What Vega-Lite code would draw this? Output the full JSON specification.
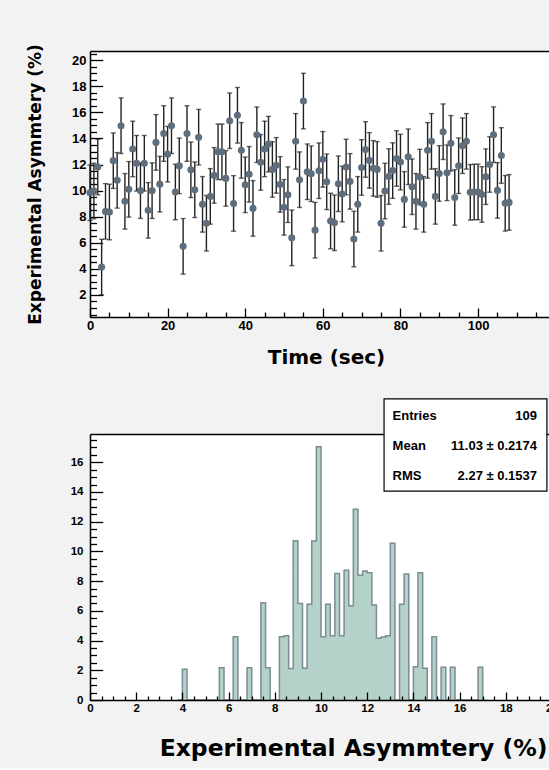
{
  "$schema": "https://vega.github.io/schema/vega-lite/v6.json",
  "background": "#f2f2f2",
  "padding": {"left": 26, "top": 43, "right": 0, "bottom": 8},
  "config": {
    "view": {"stroke": null, "fill": "white"},
    "axis": {
      "labelFont": "Liberation Sans", "labelFontWeight": "bold", "labelColor": "black",
      "tickColor": "black", "tickWidth": 1.3, "domainColor": "black", "domainWidth": 1.5,
      "grid": false, "labelFlush": false, "labelOverlap": false, "labelBound": false,
      "titleFont": "DejaVu Sans", "titleFontWeight": "bold", "titleColor": "black"
    }
  },
  "datasets": {
    "series": [
      {"t":0,"v":9.84,"err":2.13},{"t":1,"v":9.97,"err":2.13},{"t":2,"v":11.81,"err":2.13},{"t":3,"v":4.14,"err":2.13},
      {"t":4,"v":8.41,"err":2.13},{"t":5,"v":8.36,"err":2.13},{"t":6,"v":12.3,"err":2.13},{"t":7,"v":10.79,"err":2.13},
      {"t":8,"v":14.98,"err":2.13},{"t":9,"v":9.18,"err":2.13},{"t":10,"v":10.1,"err":2.13},{"t":11,"v":13.2,"err":2.13},
      {"t":12,"v":12.1,"err":2.13},{"t":13,"v":10.0,"err":2.13},{"t":14,"v":12.1,"err":2.13},{"t":15,"v":8.49,"err":2.13},
      {"t":16,"v":10.0,"err":2.13},{"t":17,"v":13.7,"err":2.13},{"t":18,"v":10.5,"err":2.13},{"t":19,"v":14.38,"err":2.13},
      {"t":20,"v":12.8,"err":2.13},{"t":21,"v":14.98,"err":2.13},{"t":22,"v":9.9,"err":2.13},{"t":23,"v":11.9,"err":2.13},
      {"t":24,"v":5.73,"err":2.13},{"t":25,"v":14.38,"err":2.13},{"t":26,"v":11.6,"err":2.13},{"t":27,"v":10.07,"err":2.13},
      {"t":28,"v":14.1,"err":2.13},{"t":29,"v":8.95,"err":2.13},{"t":30,"v":7.5,"err":2.13},{"t":31,"v":9.56,"err":2.13},
      {"t":32,"v":11.17,"err":2.13},{"t":33,"v":12.98,"err":2.13},{"t":34,"v":12.98,"err":2.13},{"t":35,"v":10.94,"err":2.13},
      {"t":36,"v":15.36,"err":2.13},{"t":37,"v":9.02,"err":2.13},{"t":38,"v":15.78,"err":2.13},{"t":39,"v":13.09,"err":2.13},
      {"t":40,"v":10.45,"err":2.13},{"t":41,"v":11.25,"err":2.13},{"t":42,"v":8.64,"err":2.13},{"t":43,"v":14.29,"err":2.13},
      {"t":44,"v":12.17,"err":2.13},{"t":45,"v":13.2,"err":2.13},{"t":46,"v":13.57,"err":2.13},{"t":47,"v":11.63,"err":2.13},
      {"t":48,"v":11.94,"err":2.13},{"t":49,"v":10.48,"err":2.13},{"t":50,"v":8.72,"err":2.13},{"t":51,"v":9.69,"err":2.13},
      {"t":52,"v":6.38,"err":2.13},{"t":53,"v":13.78,"err":2.13},{"t":54,"v":10.84,"err":2.13},{"t":55,"v":16.87,"err":2.13},
      {"t":56,"v":11.45,"err":2.13},{"t":57,"v":11.3,"err":2.13},{"t":58,"v":6.97,"err":2.13},{"t":59,"v":11.53,"err":2.13},
      {"t":60,"v":12.4,"err":2.13},{"t":61,"v":10.68,"err":2.13},{"t":62,"v":7.67,"err":2.13},{"t":63,"v":7.54,"err":2.13},
      {"t":64,"v":10.53,"err":2.13},{"t":65,"v":9.74,"err":2.13},{"t":66,"v":11.81,"err":2.13},{"t":67,"v":10.71,"err":2.13},
      {"t":68,"v":6.29,"err":2.13},{"t":69,"v":8.95,"err":2.13},{"t":70,"v":11.78,"err":2.13},{"t":71,"v":13.16,"err":2.13},
      {"t":72,"v":12.32,"err":2.13},{"t":73,"v":11.71,"err":2.13},{"t":74,"v":11.63,"err":2.13},{"t":75,"v":7.5,"err":2.13},
      {"t":76,"v":9.97,"err":2.13},{"t":77,"v":11.08,"err":2.13},{"t":78,"v":11.54,"err":2.13},{"t":79,"v":12.47,"err":2.13},
      {"t":80,"v":12.19,"err":2.13},{"t":81,"v":9.33,"err":2.13},{"t":82,"v":12.6,"err":2.13},{"t":83,"v":10.3,"err":2.13},
      {"t":84,"v":9.18,"err":2.13},{"t":85,"v":11.04,"err":2.13},{"t":86,"v":8.95,"err":2.13},{"t":87,"v":13.09,"err":2.13},
      {"t":88,"v":13.78,"err":2.13},{"t":89,"v":9.56,"err":2.13},{"t":90,"v":11.32,"err":2.13},{"t":91,"v":14.52,"err":2.13},
      {"t":92,"v":11.37,"err":2.13},{"t":93,"v":13.63,"err":2.13},{"t":94,"v":9.48,"err":2.13},{"t":95,"v":11.91,"err":2.13},
      {"t":96,"v":13.45,"err":2.13},{"t":97,"v":13.78,"err":2.13},{"t":98,"v":9.87,"err":2.13},{"t":99,"v":9.9,"err":2.13},
      {"t":100,"v":9.9,"err":2.13},{"t":101,"v":9.71,"err":2.13},{"t":102,"v":11.07,"err":2.13},{"t":103,"v":12.01,"err":2.13},
      {"t":104,"v":14.29,"err":2.13},{"t":105,"v":10.02,"err":2.13},{"t":106,"v":12.7,"err":2.13},{"t":107,"v":9.03,"err":2.13},
      {"t":108,"v":9.1,"err":2.13}
    ],
    "hist": [
      {"bin_start":3.8,"bin_end":4.0,"weight":0},{"bin_start":4.0,"bin_end":4.2,"weight":2.07},
      {"bin_start":4.2,"bin_end":4.4,"weight":0},{"bin_start":4.4,"bin_end":4.6,"weight":0},
      {"bin_start":4.6,"bin_end":4.8,"weight":0},{"bin_start":4.8,"bin_end":5.0,"weight":0},
      {"bin_start":5.0,"bin_end":5.2,"weight":0},{"bin_start":5.2,"bin_end":5.4,"weight":0},
      {"bin_start":5.4,"bin_end":5.6,"weight":0},{"bin_start":5.6,"bin_end":5.8,"weight":2.17},
      {"bin_start":5.8,"bin_end":6.0,"weight":0},{"bin_start":6.0,"bin_end":6.2,"weight":0},
      {"bin_start":6.2,"bin_end":6.4,"weight":4.26},{"bin_start":6.4,"bin_end":6.6,"weight":0},
      {"bin_start":6.6,"bin_end":6.8,"weight":0},{"bin_start":6.8,"bin_end":7.0,"weight":2.17},
      {"bin_start":7.0,"bin_end":7.2,"weight":0},{"bin_start":7.2,"bin_end":7.4,"weight":0},
      {"bin_start":7.4,"bin_end":7.6,"weight":6.55},{"bin_start":7.6,"bin_end":7.8,"weight":2.17},
      {"bin_start":7.8,"bin_end":8.0,"weight":0},{"bin_start":8.0,"bin_end":8.2,"weight":0},
      {"bin_start":8.2,"bin_end":8.4,"weight":4.26},{"bin_start":8.4,"bin_end":8.6,"weight":4.33},
      {"bin_start":8.6,"bin_end":8.8,"weight":2.12},{"bin_start":8.8,"bin_end":9.0,"weight":10.72},
      {"bin_start":9.0,"bin_end":9.2,"weight":6.5},{"bin_start":9.2,"bin_end":9.4,"weight":2.13},
      {"bin_start":9.4,"bin_end":9.6,"weight":6.44},{"bin_start":9.6,"bin_end":9.8,"weight":10.7},
      {"bin_start":9.8,"bin_end":10.0,"weight":17.05},{"bin_start":10.0,"bin_end":10.2,"weight":4.26},
      {"bin_start":10.2,"bin_end":10.4,"weight":6.44},{"bin_start":10.4,"bin_end":10.6,"weight":4.33},
      {"bin_start":10.6,"bin_end":10.8,"weight":8.52},{"bin_start":10.8,"bin_end":11.0,"weight":4.33},
      {"bin_start":11.0,"bin_end":11.2,"weight":8.73},{"bin_start":11.2,"bin_end":11.4,"weight":6.35},
      {"bin_start":11.4,"bin_end":11.6,"weight":12.83},{"bin_start":11.6,"bin_end":11.8,"weight":8.39},
      {"bin_start":11.8,"bin_end":12.0,"weight":8.68},{"bin_start":12.0,"bin_end":12.2,"weight":8.57},
      {"bin_start":12.2,"bin_end":12.4,"weight":6.4},{"bin_start":12.4,"bin_end":12.6,"weight":4.15},
      {"bin_start":12.6,"bin_end":12.8,"weight":4.24},{"bin_start":12.8,"bin_end":13.0,"weight":4.33},
      {"bin_start":13.0,"bin_end":13.2,"weight":10.54},{"bin_start":13.2,"bin_end":13.4,"weight":0},
      {"bin_start":13.4,"bin_end":13.6,"weight":6.44},{"bin_start":13.6,"bin_end":13.8,"weight":8.48},
      {"bin_start":13.8,"bin_end":14.0,"weight":0},{"bin_start":14.0,"bin_end":14.2,"weight":2.24},
      {"bin_start":14.2,"bin_end":14.4,"weight":8.57},{"bin_start":14.4,"bin_end":14.6,"weight":2.13},
      {"bin_start":14.6,"bin_end":14.8,"weight":0},{"bin_start":14.8,"bin_end":15.0,"weight":4.26},
      {"bin_start":15.0,"bin_end":15.2,"weight":0},{"bin_start":15.2,"bin_end":15.4,"weight":2.2},
      {"bin_start":15.4,"bin_end":15.6,"weight":0},{"bin_start":15.6,"bin_end":15.8,"weight":2.2},
      {"bin_start":15.8,"bin_end":16.0,"weight":0},{"bin_start":16.0,"bin_end":16.2,"weight":0},
      {"bin_start":16.2,"bin_end":16.4,"weight":0},{"bin_start":16.4,"bin_end":16.6,"weight":0},
      {"bin_start":16.6,"bin_end":16.8,"weight":0},{"bin_start":16.8,"bin_end":17.0,"weight":2.2},
      {"bin_start":17.0,"bin_end":17.2,"weight":0}
    ],
    "stats": [
      {"stat":"Entries","val":"109"},
      {"stat":"Mean","val":"11.03 ± 0.2174"},
      {"stat":"RMS","val":"2.27 ± 0.1537"}
    ]
  },
  "bounds": "flush",
  "spacing": 117,
  "vconcat": [
    {
      "width": 461,
      "height": 266,
      "data": {"name": "series"},
      "encoding": {
        "y": {"field": "v", "type": "quantitative",
              "scale": {"domain": [0.31, 20.71], "nice": false, "zero": false},
              "axis": {"orient": "left", "title": "Experimental Asymmtery (%)", "titleFontSize": 17, "titlePadding": 27,
                       "labelFontSize": 13, "labelPadding": 16.7, "format": ".0f", "labelOverlap": false,
                       "values": [0.5,1,1.5,2,2.5,3,3.5,4,4.5,5,5.5,6,6.5,7,7.5,8,8.5,9,9.5,10,10.5,11,11.5,12,12.5,13,13.5,14,14.5,15,15.5,16,16.5,17,17.5,18,18.5,19,19.5,20,20.5],
                       "labelExpr": "datum.value % 2 === 0 ? datum.label : ''",
                       "tickSize": {"condition": {"test": "datum.value % 2 === 0", "value": -12.7}, "value": -6.5}}}
      },
      "layer": [
        {
          "mark": {"type": "errorbar", "ticks": {"size": 5}, "color": "#222222", "thickness": 1.4},
          "encoding": {
            "x": {"field": "t", "type": "quantitative",
                  "scale": {"domain": [0, 118.8], "nice": false, "zero": false},
                  "axis": {"orient": "top", "labels": false, "ticks": false, "title": null}},
            "yError": {"field": "err"}
          }
        },
        {
          "mark": {"type": "point", "filled": true, "size": 50, "color": "#5f6e7d", "opacity": 1},
          "encoding": {
            "x": {"field": "t", "type": "quantitative",
                  "axis": {"orient": "bottom", "title": "Time (sec)", "titleFontSize": 20, "titlePadding": 11,
                           "titleX": 236, "titleAlign": "center",
                           "labelFontSize": 13, "labelPadding": 11, "labelOverlap": false,
                           "values": [0,5,10,15,20,25,30,35,40,45,50,55,60,65,70,75,80,85,90,95,100,105,110,115],
                           "labelExpr": "datum.value % 20 === 0 ? datum.label : ''",
                           "tickSize": {"condition": {"test": "datum.value % 20 === 0", "value": -9}, "value": -5}}}
          }
        }
      ]
    },
    {
      "width": 462,
      "height": 266,
      "layer": [
        {
          "data": {"name": "hist"},
          "encoding": {
            "y": {"field": "weight", "type": "quantitative",
                  "scale": {"domain": [0, 17.9], "nice": false},
                  "axis": {"orient": "left", "zindex": 1, "title": null, "format": ".0f",
                           "labelFontSize": 11.5, "labelPadding": 19.7, "labelOverlap": false,
                           "values": [0,0.5,1,1.5,2,2.5,3,3.5,4,4.5,5,5.5,6,6.5,7,7.5,8,8.5,9,9.5,10,10.5,11,11.5,12,12.5,13,13.5,14,14.5,15,15.5,16,16.5,17,17.5],
                           "labelExpr": "datum.value % 2 === 0 ? datum.label : ''",
                           "tickSize": {"condition": {"test": "datum.value % 2 === 0", "value": -12.7}, "value": -6.5}}}
          },
          "layer": [
            {
              "mark": {"type": "rect", "fill": "#b4d2c9", "stroke": "#b4d2c9", "strokeWidth": 0.6},
              "encoding": {
                "x": {"field": "bin_start", "type": "quantitative",
                      "scale": {"domain": [0, 20], "nice": false, "zero": false},
                      "axis": {"orient": "bottom", "zindex": 1, "title": "Experimental Asymmtery (%)", "titleFontSize": 23.5,
                               "titleX": 457, "titleAlign": "right", "titlePadding": 19, "format": ".0f",
                               "labelFontSize": 11.5, "labelPadding": 10, "labelOverlap": false,
                               "values": [0,0.5,1,1.5,2,2.5,3,3.5,4,4.5,5,5.5,6,6.5,7,7.5,8,8.5,9,9.5,10,10.5,11,11.5,12,12.5,13,13.5,14,14.5,15,15.5,16,16.5,17,17.5,18,18.5,19,19.5,20],
                               "labelExpr": "datum.value % 2 === 0 ? datum.label : ''",
                               "tickSize": {"condition": {"test": "datum.value % 2 === 0", "value": -8}, "value": -4}}},
                "x2": {"field": "bin_end"},
                "y2": {"datum": 0}
              }
            },
            {
              "mark": {"type": "line", "interpolate": "step-after", "color": "#7d8d96", "strokeWidth": 1.5},
              "encoding": {
                "x": {"field": "bin_start", "type": "quantitative",
                      "axis": {"orient": "top", "labels": false, "ticks": false, "title": null}}
              }
            }
          ]
        },
        {
          "data": {"values": [{}]},
          "encoding": {
            "x": {"datum": 12.73, "type": "quantitative", "axis": null},
            "x2": {"datum": 19.78},
            "y": {"datum": 20.26, "type": "quantitative", "scale": {"domain": [0, 17.9], "nice": false}, "axis": null},
            "y2": {"datum": 14.06}
          },
          "layer": [
            {"mark": {"type": "rect", "fill": "black", "xOffset": 2, "yOffset": 2}},
            {"mark": {"type": "rect", "fill": "white", "stroke": "black", "strokeWidth": 1.2}}
          ]
        },
        {
          "data": {"name": "stats"},
          "encoding": {
            "y": {"field": "stat", "type": "nominal",
                  "scale": {"type": "point", "domain": ["Entries", "Mean", "RMS"], "range": [-14, 46], "padding": 0},
                  "axis": null}
          },
          "layer": [
            {
              "mark": {"type": "text", "align": "left", "baseline": "alphabetic", "font": "Liberation Sans", "fontWeight": "bold", "fontSize": 13, "color": "black"},
              "encoding": {"x": {"datum": 13.1, "type": "quantitative", "axis": null}, "text": {"field": "stat"}}
            },
            {
              "mark": {"type": "text", "align": "right", "baseline": "alphabetic", "font": "Liberation Sans", "fontWeight": "bold", "fontSize": 13, "color": "black"},
              "encoding": {"x": {"datum": 19.35, "type": "quantitative", "axis": null}, "text": {"field": "val"}}
            }
          ]
        }
      ],
      "resolve": {"scale": {"y": "independent"}}
    }
  ]
}
